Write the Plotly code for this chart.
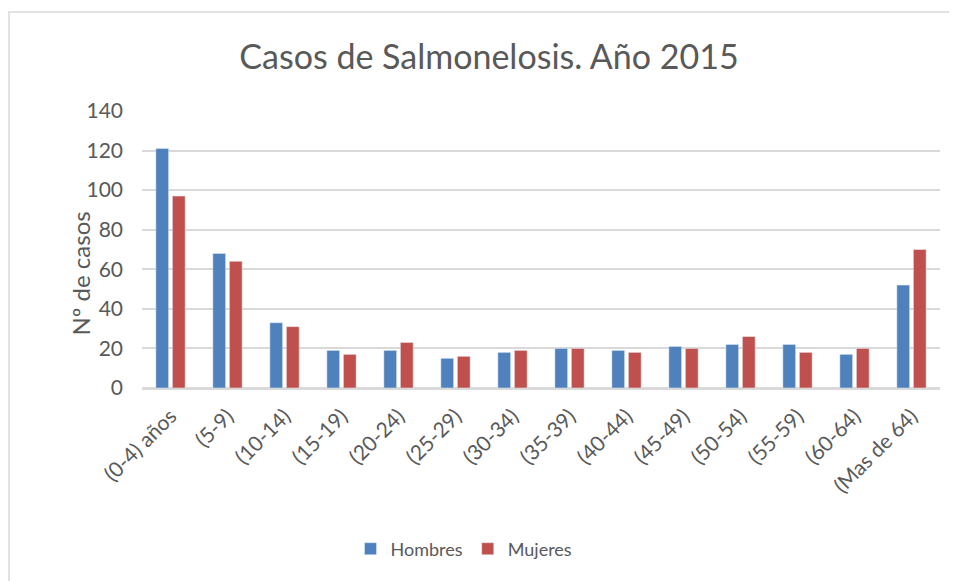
import plotly.graph_objects as go

# datos
grupos = ["(0-4) años", "(5-9)", "(10-14)", "(15-19)", "(20-24)", "(25-29)", "(30-34)",
          "(35-39)", "(40-44)", "(45-49)", "(50-54)", "(55-59)", "(60-64)", "(Mas de 64)"]
hombres = [121, 68, 33, 19, 19, 15, 18, 20, 19, 21, 22, 22, 17, 52]
mujeres = [97, 64, 31, 17, 23, 16, 19, 20, 18, 20, 26, 18, 20, 70]

fuente = "Lato"
gris = "#595959"
off = 8  # margen del body de la pagina

fig = go.Figure()
fig.add_trace(go.Bar(x=grupos, y=hombres, name="Hombres", marker_color="#4F81BD"))
fig.add_trace(go.Bar(x=grupos, y=mujeres, name="Mujeres", marker_color="#C0504D"))

# marco del grafico (px -> paper)
L, R, T, B = 142 - off, 940 - off, 111 - off, 388 - off
W, H = 957, 581
def px(x): return (x - off - L) / (R - L)
def py(y): return (B - (y - off)) / (B - T)

fig.add_shape(type="rect", xref="paper", yref="paper",
              x0=px(9), x1=px(990), y0=py(12), y1=py(620),
              line=dict(color="#d9d9d9", width=1.5), fillcolor="rgba(0,0,0,0)", layer="below")

fig.add_annotation(text="Nº de casos", xref="paper", yref="paper", x=px(63), y=py(274),
                   textangle=-90, showarrow=False, font=dict(family=fuente, size=24, color=gris))

fig.update_layout(
    width=W, height=H,
    margin=dict(l=L, r=W - R, t=T, b=H - B),
    paper_bgcolor="white", plot_bgcolor="white",
    title=dict(text="Casos de Salmonelosis. Año 2015", x=px(489), xref="paper", xanchor="center",
               y=1 - (57 - off) / H, yanchor="middle", font=dict(family=fuente, size=34, color=gris)),
    bargap=0.42, bargroupgap=0.23,
    showlegend=True,
    legend=dict(orientation="h", x=px(464), xanchor="center", y=py(549), yanchor="middle",
                font=dict(family=fuente, size=18, color=gris), itemwidth=30),
    font=dict(family=fuente, color=gris),
)
fig.update_yaxes(range=[0, 140], dtick=20, showgrid=True, gridcolor="#d9d9d9", gridwidth=1.5,
                 zeroline=True, zerolinecolor="#d9d9d9", zerolinewidth=1.5,
                 tickfont=dict(family=fuente, size=21, color=gris), ticklabelstandoff=18)
fig.update_xaxes(tickangle=-45, tickfont=dict(family=fuente, size=21, color=gris),
                 showline=True, linecolor="#d9d9d9", linewidth=1.5, ticklabelstandoff=6)

fig.write_html("out.html")
